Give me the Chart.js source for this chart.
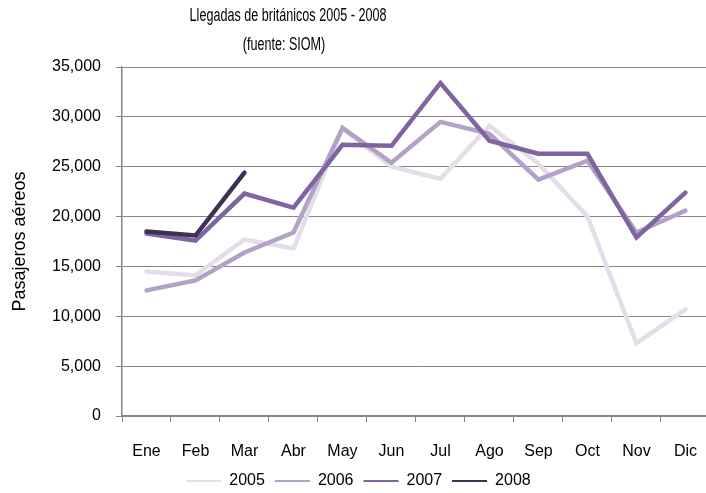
<!DOCTYPE html>
<html>
<head>
<meta charset="utf-8">
<script src="https://cdn.jsdelivr.net/npm/chart.js@4"></script>
<style>
    html, body { margin: 0; padding: 0; background: #ffffff; }
    #wrap { width: 706px; height: 493px; overflow: hidden; position: relative; }
    canvas { display: block; }
</style>
</head>
<body>
<div id="wrap">
    <canvas id="llegadasChart" width="717" height="493"></canvas>
</div>
<script>
// Meses (eje X)
const meses = ["Ene", "Feb", "Mar", "Abr", "May", "Jun", "Jul", "Ago", "Sep", "Oct", "Nov", "Dic"];

// Pasajeros aéreos por año
const datos2005 = [14500, 14100, 17700, 16800, 28800, 25000, 23800, 29100, 25300, 20000, 7300, 10700];
const datos2006 = [12600, 13600, 16400, 18400, 28900, 25400, 29500, 28300, 23700, 25600, 18400, 20600];
const datos2007 = [18300, 17600, 22300, 20900, 27200, 27100, 33400, 27600, 26300, 26300, 17900, 22400];
const datos2008 = [18500, 18100, 24400, null, null, null, null, null, null, null, null, null];

const anios = ["2005", "2006", "2007", "2008"];
const colores = ["#e4deeb", "#b3a2c7", "#8064a2", "#3f3151"];

const tituloTexto = "Llegadas de británicos 2005 - 2008";
const subtituloTexto = "(fuente: SIOM)";

document.addEventListener("DOMContentLoaded", function () {
    var ctx = document.getElementById("llegadasChart").getContext("2d");
    const series = [datos2005, datos2006, datos2007, datos2008];
    const fuente = "'Liberation Sans', Arial, sans-serif";

    // Titulo dibujado a mano, con letra estrecha (como Arial Narrow)
    const tituloPlugin = {
        id: "tituloPlugin",
        afterDraw: function (chart) {
            const c = chart.ctx;
            const escala = 0.72;
            c.save();
            c.fillStyle = "#000000";
            c.textAlign = "center";
            c.textBaseline = "middle";
            c.font = "17.5px " + fuente;
            c.scale(escala, 1);
            c.fillText(tituloTexto, 288 / escala, 16);
            c.fillText(subtituloTexto, 284 / escala, 45);
            c.restore();
        },
    };

    new Chart(ctx, {
        type: "line",
        data: {
            labels: meses,
            datasets: series.map(function (d, i) {
                return {
                    label: anios[i],
                    data: d,
                    borderColor: colores[i],
                    backgroundColor: colores[i],
                    borderWidth: 4.5,
                    borderCapStyle: "round",
                    tension: 0,
                    fill: false,
                    pointRadius: 0,
                    pointHoverRadius: 0,
                    order: 4 - i, // los años recientes encima
                };
            }),
        },
        options: {
            responsive: false,
            animation: false,
            devicePixelRatio: 1,
            layout: {
                padding: { top: 67, left: 0, right: 0, bottom: -6 },
            },
            plugins: {
                title: { display: false },
                tooltip: { enabled: false },
                legend: {
                    display: true,
                    position: "bottom",
                    labels: {
                        boxWidth: 35,
                        boxHeight: 2,
                        padding: 10,
                        color: "#000000",
                        font: { family: fuente, size: 16 },
                        generateLabels: function (chart) {
                            return chart.data.datasets.map(function (ds, i) {
                                return {
                                    text: ds.label,
                                    fillStyle: ds.borderColor,
                                    strokeStyle: ds.borderColor,
                                    lineWidth: 0,
                                    hidden: false,
                                    datasetIndex: i,
                                };
                            });
                        },
                    },
                },
            },
            scales: {
                x: {
                    offset: true,
                    afterFit: function (scale) {
                        scale.height = 47;
                    },
                    grid: {
                        display: true,
                        offset: true,
                        drawOnChartArea: false,
                        drawTicks: true,
                        tickLength: 6,
                        color: "#868686",
                    },
                    border: { display: true, color: "#868686", width: 1.5 },
                    ticks: {
                        color: "#000000",
                        padding: 20,
                        maxRotation: 0,
                        autoSkip: false,
                        font: { family: fuente, size: 16 },
                    },
                },
                y: {
                    min: 0,
                    max: 35000,
                    afterFit: function (scale) {
                        scale.width = 122;
                    },
                    grid: {
                        color: "#868686",
                        lineWidth: 1,
                        drawTicks: true,
                        tickLength: 6,
                    },
                    border: { display: true, color: "#868686", width: 1.5 },
                    ticks: {
                        stepSize: 5000,
                        color: "#000000",
                        padding: 15,
                        font: { family: fuente, size: 16 },
                        callback: function (v) {
                            return v.toLocaleString("en-US");
                        },
                    },
                    title: {
                        display: true,
                        text: "Pasajeros aéreos",
                        color: "#000000",
                        font: { family: fuente, size: 18 },
                        padding: { top: 9, bottom: 0 },
                    },
                },
            },
        },
        plugins: [tituloPlugin],
    });
});
</script>
</body>
</html>
